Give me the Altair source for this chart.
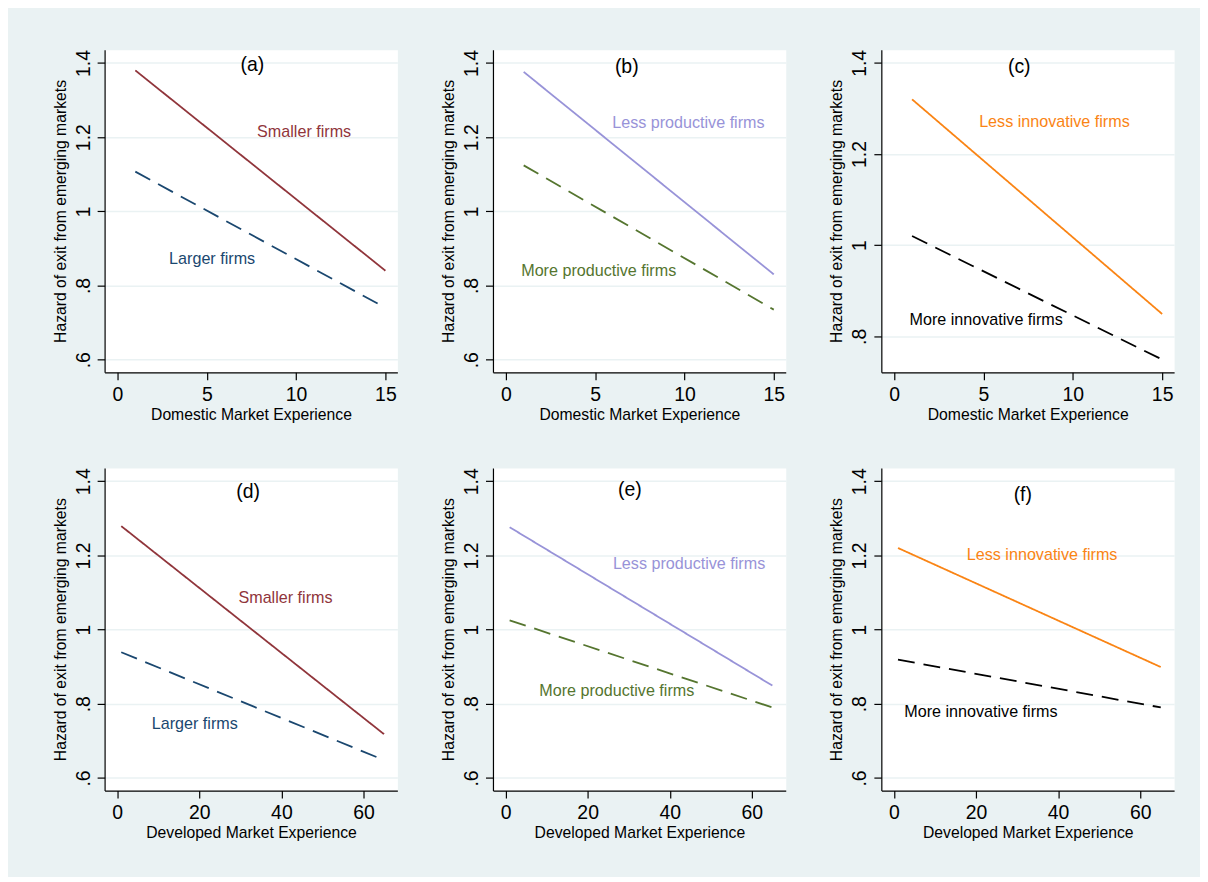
import altair as alt
import pandas as pd

FONT = "Liberation Sans"
BG = "#EAF2F3"

# ---- data ----
dom_x = [1, 15]
dev_x = [1, 65]

a_smaller = [1.380, 0.840]
a_larger = [1.107, 0.740]
b_less = [1.376, 0.830]
b_more = [1.124, 0.735]
c_less = [1.320, 0.849]
c_more = [1.020, 0.749]
d_smaller = [1.279, 0.718]
d_larger = [0.939, 0.648]
e_less = [1.276, 0.849]
e_more = [1.025, 0.790]
f_less = [1.220, 0.899]
f_more = [0.919, 0.790]

size_names = ["Smaller firms", "Larger firms"]
prod_names = ["Less productive firms", "More productive firms"]
innov_names = ["Less innovative firms", "More innovative firms"]

size_colors = ["#90353B", "#1A476F"]
prod_colors = ["#9893D8", "#55752F"]
innov_colors = ["#FA8414", "#000000"]

panel_tags = ["(a)", "(b)", "(c)", "(d)", "(e)", "(f)"]
tag_x = [7.55, 6.77, 7.0, 31.9, 30.3, 31.4]
tag_y = [1.394, 1.388, 1.391, 1.371, 1.375, 1.364]

label_x = [[10.45, 5.3], [10.22, 5.2], [8.97, 5.15], [41.0, 18.9], [44.7, 27.1], [36.1, 21.2]]
label_y = [[1.215, 0.871], [1.238, 0.840], [1.270, 0.836], [1.085, 0.746], [1.177, 0.835], [1.2015, 0.779]]

dom_ticks = [0, 5, 10, 15]
dev_ticks = [0, 20, 40, 60]
y_ticks = [0.6, 0.8, 1.0, 1.2, 1.4]
y_ticks_c = [0.8, 1.0, 1.2, 1.4]

y_title = "Hazard of exit from emerging markets"
x_title_dom = "Domestic Market Experience"
x_title_dev = "Developed Market Experience"

W, H = 294, 324

LABEL_EXPR = "datum.value < 1 ? substring(format(datum.value, '.1f'), 1) : format(datum.value, '~g')"


def panel(i, xv, s1, s2, names, colors, xdom, ydom, yt, xt, xtitle):
    df = pd.DataFrame({
        "x": list(xv) + list(xv),
        "y": list(s1) + list(s2),
        "s": [names[0]] * len(xv) + [names[1]] * len(xv),
    })
    lab = pd.DataFrame({"x": label_x[i], "y": label_y[i], "s": names})
    tag = pd.DataFrame({"x": [tag_x[i]], "y": [tag_y[i]], "t": [panel_tags[i]]})

    xs = alt.Scale(domain=xdom, nice=False, zero=False)
    ys = alt.Scale(domain=ydom, nice=False, zero=False)
    color = alt.Color("s:N", scale=alt.Scale(domain=names, range=colors), legend=None)

    xaxis = alt.Axis(values=xt, title=xtitle, grid=False, labelFlush=False,
                     labelBaseline="alphabetic", labelPadding=20.5,
                     titleBaseline="alphabetic", titleY=47, titleX=W / 2)
    yaxis = alt.Axis(values=yt, title=y_title, grid=True, labelFlush=False,
                     labelExpr=LABEL_EXPR, labelAngle=270, labelAlign="center",
                     labelBaseline="alphabetic", labelPadding=8,
                     titleAngle=270, titleBaseline="alphabetic", titleAlign="center",
                     titleX=-39.5, titleY=H / 2)

    lines = alt.Chart(df).mark_line(strokeWidth=1.8).encode(
        x=alt.X("x:Q", scale=xs, axis=xaxis),
        y=alt.Y("y:Q", scale=ys, axis=yaxis),
        color=color,
        strokeDash=alt.StrokeDash("s:N", scale=alt.Scale(domain=names, range=[[1, 0], [17, 9]]), legend=None),
    )
    texts = alt.Chart(lab).mark_text(font=FONT, fontSize=16.2, align="center", baseline="middle").encode(
        x=alt.X("x:Q", scale=xs),
        y=alt.Y("y:Q", scale=ys),
        text="s:N",
        color=color,
    )
    tags = alt.Chart(tag).mark_text(font=FONT, fontSize=19.5, align="center", baseline="middle", color="black").encode(
        x=alt.X("x:Q", scale=xs),
        y=alt.Y("y:Q", scale=ys),
        text="t:N",
    )
    return alt.layer(lines, texts, tags).properties(width=W, height=H)


dom_xdom = [-0.72, 15.67]
dev_xdom = [-3.06, 68.25]
ydom_main = [0.566, 1.436]
ydom_c = [0.721, 1.429]

pa = panel(0, dom_x, a_smaller, a_larger, size_names, size_colors, dom_xdom, ydom_main, y_ticks, dom_ticks, x_title_dom)
pb = panel(1, dom_x, b_less, b_more, prod_names, prod_colors, dom_xdom, ydom_main, y_ticks, dom_ticks, x_title_dom)
pc = panel(2, dom_x, c_less, c_more, innov_names, innov_colors, dom_xdom, ydom_c, y_ticks_c, dom_ticks, x_title_dom)
pd_ = panel(3, dev_x, d_smaller, d_larger, size_names, size_colors, dev_xdom, ydom_main, y_ticks, dev_ticks, x_title_dev)
pe = panel(4, dev_x, e_less, e_more, prod_names, prod_colors, dev_xdom, ydom_main, y_ticks, dev_ticks, x_title_dev)
pf = panel(5, dev_x, f_less, f_more, innov_names, innov_colors, dev_xdom, ydom_main, y_ticks, dev_ticks, x_title_dev)

chart = alt.concat(pa, pb, pc, pd_, pe, pf, columns=3, spacing=96, bounds="flush").resolve_scale(
    x="independent", y="independent", color="independent", strokeDash="independent"
).properties(
    background=BG,
    padding={"left": 43, "top": 39, "right": 25, "bottom": 34},
).configure_view(
    fill="white", stroke="transparent"
).configure_axis(
    labelFont=FONT, titleFont=FONT, labelFontSize=19.5, titleFontSize=15.8,
    labelColor="black", titleColor="black", titleFontWeight="normal",
    domainColor="black", domainWidth=1.2, tickColor="black", tickWidth=1.2, tickSize=7.5,
    gridColor=BG, gridWidth=1.5, labelOverlap=False, labelBound=False,
)

chart.save("out.html", embed_options={"renderer": "svg", "actions": False})
